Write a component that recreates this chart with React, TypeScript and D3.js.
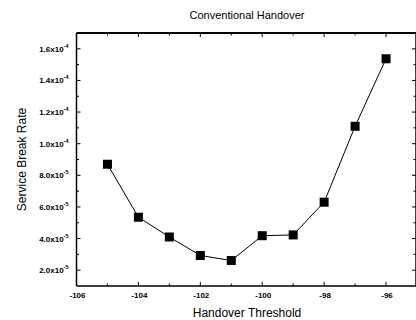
import React, { useRef, useEffect } from 'react';
import * as d3 from 'd3';

const thresholds = [-105, -104, -103, -102, -101, -100, -99, -98, -97, -96];
const breakRates = [8.7e-5, 5.35e-5, 4.1e-5, 2.93e-5, 2.61e-5, 4.18e-5, 4.23e-5, 6.3e-5, 1.11e-4, 1.537e-4];
const yTickValues = [2e-5, 4e-5, 6e-5, 8e-5, 1.0e-4, 1.2e-4, 1.4e-4, 1.6e-4];
const yTickMantissa = ['2.0', '4.0', '6.0', '8.0', '1.0', '1.2', '1.4', '1.6'];
const yTickExponent = ['-5', '-5', '-5', '-5', '-4', '-4', '-4', '-4'];
const xTickLabels = [-106, -104, -102, -100, -98, -96];

const W = 416;
const H = 320;

const App: React.FC = () => {
  const svgRef = useRef<SVGSVGElement | null>(null);

  const marginTop = 33;
  const marginBottom = 34;
  const left = 76.5;
  const right = 417;

  useEffect(() => {
    if (!svgRef.current) return;
    const svg = d3.select(svgRef.current);
    svg.selectAll('*').remove();

    const x = d3.scaleLinear().domain([-106, -95]).range([left, right]);
    const y = d3.scaleLinear().domain([1e-5, 1.7e-4]).range([H - marginBottom, marginTop]);

    const font = 'Liberation Sans, Arial, sans-serif';
    const bottom = H - marginBottom;

    // frame
    svg.append('line').attr('x1', left).attr('x2', right).attr('y1', bottom).attr('y2', bottom)
      .attr('stroke', '#000').attr('stroke-width', 1.5);
    svg.append('line').attr('x1', left).attr('x2', right).attr('y1', marginTop).attr('y2', marginTop)
      .attr('stroke', '#000').attr('stroke-width', 2);
    svg.append('line').attr('x1', left).attr('x2', left).attr('y1', marginTop).attr('y2', bottom)
      .attr('stroke', '#000').attr('stroke-width', 1.5);
    svg.append('line').attr('x1', right - 1).attr('x2', right - 1).attr('y1', marginTop).attr('y2', bottom)
      .attr('stroke', '#000').attr('stroke-width', 1.5);

    // x ticks, inward
    d3.range(-106, -94).forEach((v) => {
      const major = v % 2 === 0;
      const len = major ? 4 : 2.5;
      svg.append('line').attr('x1', x(v)).attr('x2', x(v)).attr('y1', bottom).attr('y2', bottom - len)
        .attr('stroke', '#000').attr('stroke-width', 1);
      svg.append('line').attr('x1', x(v)).attr('x2', x(v)).attr('y1', marginTop).attr('y2', marginTop + len)
        .attr('stroke', '#000').attr('stroke-width', 1);
    });

    // y ticks, inward
    d3.range(1, 17).forEach((i) => {
      const v = i * 1e-5 + 1e-5;
      const major = i % 2 === 1;
      const len = major ? 4 : 2.5;
      svg.append('line').attr('x1', left).attr('x2', left + len).attr('y1', y(v)).attr('y2', y(v))
        .attr('stroke', '#000').attr('stroke-width', 1);
      svg.append('line').attr('x1', right - 1).attr('x2', right - 1 - len).attr('y1', y(v)).attr('y2', y(v))
        .attr('stroke', '#000').attr('stroke-width', 1);
    });

    // x tick labels
    svg.append('g').selectAll('text').data(xTickLabels).join('text')
      .attr('x', (d) => x(d) + 1)
      .attr('y', bottom + 12)
      .attr('text-anchor', 'middle')
      .attr('font-family', font)
      .attr('font-size', 8)
      .attr('font-weight', 'bold')
      .text((d) => String(d));

    // y tick labels
    const yl = svg.append('g').selectAll('text').data(yTickValues).join('text')
      .attr('x', left - 8)
      .attr('y', (d) => y(d) + 3)
      .attr('text-anchor', 'end')
      .attr('font-family', font)
      .attr('font-size', 8)
      .attr('font-weight', 'bold');
    yl.append('tspan').text((_, i) => `${yTickMantissa[i]}x10`);
    yl.append('tspan').attr('dy', -4).attr('font-size', 5.5).text((_, i) => yTickExponent[i]);

    // line
    const pts = thresholds.map((t, i) => [t, breakRates[i]] as [number, number]);
    svg.append('path')
      .datum(pts)
      .attr('fill', 'none')
      .attr('stroke', '#000')
      .attr('stroke-width', 1)
      .attr('d', d3.line<[number, number]>().x((d) => x(d[0])).y((d) => y(d[1])));

    // markers
    svg.append('g').selectAll('rect').data(pts).join('rect')
      .attr('x', (d) => x(d[0]) - 4.5)
      .attr('y', (d) => y(d[1]) - 4.5)
      .attr('width', 9)
      .attr('height', 9)
      .attr('fill', '#000');

    // titles
    svg.append('text').attr('x', 247).attr('y', 19).attr('text-anchor', 'middle')
      .attr('font-family', font).attr('font-size', 11).text('Conventional Handover');
    svg.append('text').attr('x', 247).attr('y', 317).attr('text-anchor', 'middle')
      .attr('font-family', font).attr('font-size', 12).text('Handover Threshold');
    svg.append('text')
      .attr('transform', `translate(26,${(marginTop + bottom) / 2}) rotate(-90)`)
      .attr('text-anchor', 'middle')
      .attr('font-family', font).attr('font-size', 12).text('Service Break Rate');
  }, []);

  return (
    <svg ref={svgRef} width={W} height={H}
      style={{ position: 'absolute', left: 0, top: 0, background: '#fff' }} />
  );
};

export default App;
